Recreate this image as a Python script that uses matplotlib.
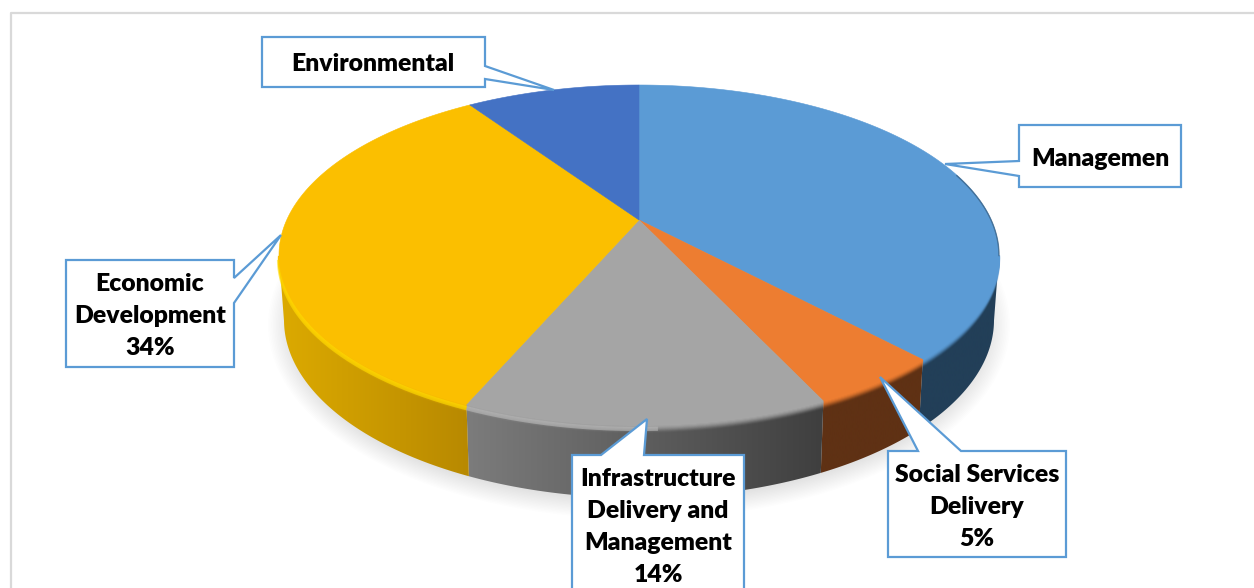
import numpy as np
import matplotlib
matplotlib.use("Agg")
import matplotlib.pyplot as plt
from matplotlib.patches import Polygon, Ellipse
from matplotlib.colors import to_rgb

# shares in percent, clockwise from 12 o'clock
# Management and Environmental have no printed value
categories = ['Management', 'Social Services Delivery', 'Infrastructure Delivery and Management',
              'Economic Development', 'Environmental']
shares = [38, 5, 13.5, 34, 9.5]
top_colors = ['#5b9bd5', '#ed7d31', '#a5a5a5', '#fbbf00', '#4472c4']
wall_left = ['#223f58', '#5f3114', '#7c7c7c', '#dcaa00', '#2f5597']
wall_right = ['#223f58', '#5f3114', '#3f3f3f', '#b88900', '#2f5597']
highlights = [None, None, '#b8b8b8', '#ffdd00', None]

label_texts = ['Managemen', 'Social Services\nDelivery\n5%',
               'Infrastructure\nDelivery and\nManagement\n14%',
               'Economic\nDevelopment\n34%', 'Environmental']
label_centers = [(1100, 159), (977, 507), (658, 527), (150, 316), (373, 64)]

# callout outlines in pixels, box corners with the pointer in between
callouts = [
    [(1019, 125), (1181, 125), (1181, 187), (1019, 187), (1019, 176), (945, 164), (1019, 161)],
    [(888, 451), (918, 451), (880, 377), (961, 451), (1066, 451), (1066, 557), (888, 557)],
    [(572, 455), (601, 455), (647, 419), (644, 455), (744, 455), (744, 600), (572, 600)],
    [(66, 260), (234, 260), (234, 278), (281, 235), (234, 303), (234, 367), (66, 367)],
    [(262, 37), (485, 37), (485, 66), (554, 90), (485, 79), (485, 87), (262, 87)],
]

# ellipse of the top face and of the bottom edge, the apex sits above the ellipse centre
cx, cy, rx, ry = 639, 255, 360, 170
bx, by, brx, bry = 639, 320, 355, 178
ecc = 0.206
depth_band = 8


def rim_point(theta):
    # true angle on the disc to screen position, perspective tilt included
    u, v = np.sin(theta), np.cos(theta)
    d = 1 + ecc * v
    up = u * np.sqrt(1 - ecc**2) / d
    vp = (v + ecc) / d
    return up, vp


plt.rcParams['font.family'] = ['Lato', 'DejaVu Sans']
fig = plt.figure(figsize=(12.54, 5.88), dpi=100)
ax = fig.add_axes([0, 0, 1, 1])

# chart frame
ax.plot([11, 11, 1254], [588, 13, 13], color='#d9d9d9', lw=1.6, zorder=1)

# soft shadow under the pie
for i in range(16):
    ax.add_patch(Ellipse((bx, by + 5), 2 * (brx + 16 - i * 1.6), 2 * (bry + 16 - i * 1.4),
                         fc='black', ec='none', alpha=0.009, zorder=2))

edges = np.cumsum([0] + shares) / sum(shares) * 2 * np.pi
for i in range(len(shares)):
    theta = np.linspace(edges[i], edges[i + 1], 300)
    up, vp = rim_point(theta)
    x = cx + rx * up
    y = cy - ry * vp

    # side wall, only the front half shows
    t = np.mod(np.arctan2(up, vp), 2 * np.pi)
    front = (t >= np.pi / 2) & (t <= 3 * np.pi / 2)
    if front.any():
        xb = bx + brx * np.sin(t[front])
        yb = by - bry * np.cos(t[front])
        wall = Polygon(np.vstack([np.c_[x[front], y[front]], np.c_[xb, yb][::-1]]),
                       closed=True, fc='none', ec='none', transform=ax.transData)
        ax.add_patch(wall)
        c0, c1 = np.array(to_rgb(wall_left[i])), np.array(to_rgb(wall_right[i]))
        mix = np.linspace(0, 1, 256)[:, None]
        grad = (c0 * (1 - mix) + c1 * mix)[None, :, :]
        im = ax.imshow(grad, extent=[min(x[front].min(), xb.min()), max(x[front].max(), xb.max()), 600, 0],
                       aspect='auto', zorder=3, interpolation='bilinear')
        im.set_clip_path(wall)

        # bevel along the rim, top colour fading into the wall
        for k in range(depth_band):
            ax.plot(x[front], y[front] + k, color=top_colors[i], lw=1.6,
                    alpha=(1 - k / depth_band)**1.5, zorder=4, solid_capstyle='butt')
        if highlights[i]:
            left = x[front] < cx + 20
            ax.plot(x[front][left], y[front][left] + 4, color=highlights[i], lw=3, alpha=0.6,
                    zorder=5, solid_capstyle='butt')

    # top face
    ax.add_patch(Polygon(np.vstack([[cx, cy - ry * ecc], np.c_[x, y]]), closed=True,
                         fc=top_colors[i], ec=top_colors[i], lw=0.4, zorder=6))

# darker edge where the rim turns away at the right
t_edge = np.linspace(np.radians(62), np.pi / 2, 40)
ax.plot(cx + rx * np.sin(t_edge), cy - ry * np.cos(t_edge) + 0.5, color='#223f58', lw=1, alpha=0.5, zorder=7)

for outline, text, pos in zip(callouts, label_texts, label_centers):
    ax.add_patch(Polygon(outline, closed=True, fc='white', ec='#5b9bd5', lw=1.6,
                         joinstyle='miter', zorder=8))
    ax.text(pos[0], pos[1], text, ha='center', va='center', fontsize=17.8, fontweight=800,
            color='black', linespacing=1.55, zorder=9)

ax.set_xlim(0, 1254)
ax.set_ylim(588, 0)
ax.axis('off')
fig.savefig('out.png', dpi=100, facecolor='white')
